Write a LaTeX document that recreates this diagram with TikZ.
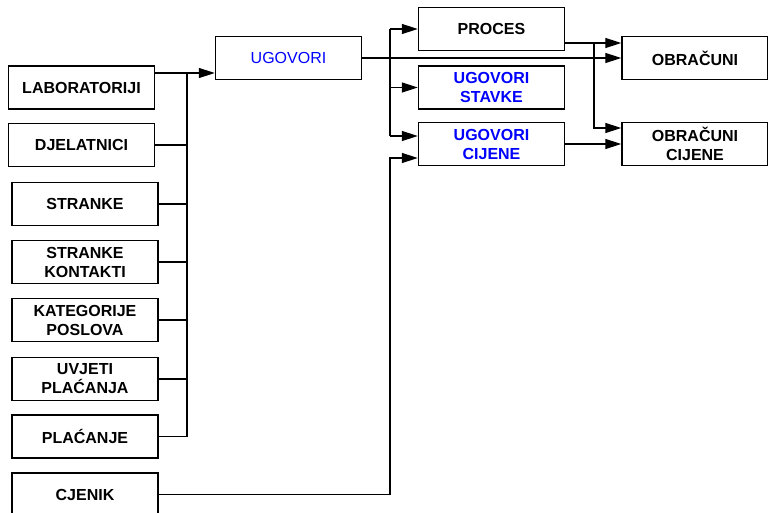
\documentclass[tikz,border=0pt]{standalone}
\usepackage{fontspec}
\setmainfont{Liberation Sans}
\usetikzlibrary{arrows.meta}
\definecolor{ublue}{RGB}{0,0,255}
\begin{document}
\begin{tikzpicture}[x=1pt,y=-1pt,
  box/.style={draw, line width=1.4pt, minimum width=146pt, minimum height=43pt, inner sep=0pt,
    align=center, font=\fontsize{16}{19}\selectfont\bfseries},
  blu/.style={text=ublue},
  conn/.style={line width=1.3pt},
  arr/.style={line width=1.3pt, -{Triangle[length=16pt,width=10pt]}},
  bus/.style={line width=1.9pt}]
\useasboundingbox (0,0) rectangle (768,513);
% left column
\node[box] (lab) at (81.5,87.5) {LABORATORIJI};
\node[box] (dje) at (81.5,145) {DJELATNICI};
\node[box] (str) at (85,204) {STRANKE};
\node[box] (strk) at (85,262) {STRANKE\\KONTAKTI};
\node[box] (kat) at (85,320) {KATEGORIJE\\POSLOVA};
\node[box] (uvj) at (85,379) {UVJETI\\PLAĆANJA};
\node[box] (pla) at (85,436.5) {PLAĆANJE};
\node[box] (cje) at (85,494.5) {CJENIK};
% middle
\node[box, blu, font=\fontsize{16}{19}\selectfont] (ugo) at (288.5,58) {UGOVORI};
\node[box] (pro) at (491.5,29) {PROCES};
\node[box, blu] (ugs) at (491.5,87.5) {UGOVORI\\STAVKE};
\node[box, blu] (ugc) at (491.5,144) {UGOVORI\\CIJENE};
% right
\node[box] (obr) at (695,58) {OBRAČUNI};
\node[box] (obc) at (695,144) {OBRAČUNI\\CIJENE};
% junction coordinates
\coordinate (j1) at (187,73);
\coordinate (b1) at (390,29);
\coordinate (b2) at (390,87.5);
\coordinate (b3) at (390,136);
\coordinate (j3) at (390,158);
\coordinate (j4) at (594,43);
\coordinate (j5) at (594,128);
% left bus
\draw[arr] (lab.east|-j1) -- (ugo.west|-j1);
\draw[bus] (j1) -- (j1|-pla.east);
\draw[conn] (dje.east) -- (dje.east-|j1);
\draw[conn] (str.east) -- (str.east-|j1);
\draw[conn] (strk.east) -- (strk.east-|j1);
\draw[conn] (kat.east) -- (kat.east-|j1);
\draw[conn] (uvj.east) -- (uvj.east-|j1);
\draw[conn] (pla.east) -- (pla.east-|j1);
% ugovori outputs
\draw[arr] (ugo.east) -- (obr.west|-ugo.east);
\draw[conn] (b1) -- (b3);
\draw[arr] (b1) -- (pro.west);
\draw[arr] (b2) -- (ugs.west);
\draw[arr] (b3) -- (ugc.west|-b3);
% cjenik
\draw[arr] (cje.east) -| (j3) -- (ugc.west|-j3);
% proces
\draw[arr] (pro.east|-j4) -- (obr.west|-j4);
\draw[arr] (j4) -- (j5) -- (obc.west|-j5);
% ugovori cijene
\draw[arr] (ugc.east) -- (obc.west);
\end{tikzpicture}
\end{document}
